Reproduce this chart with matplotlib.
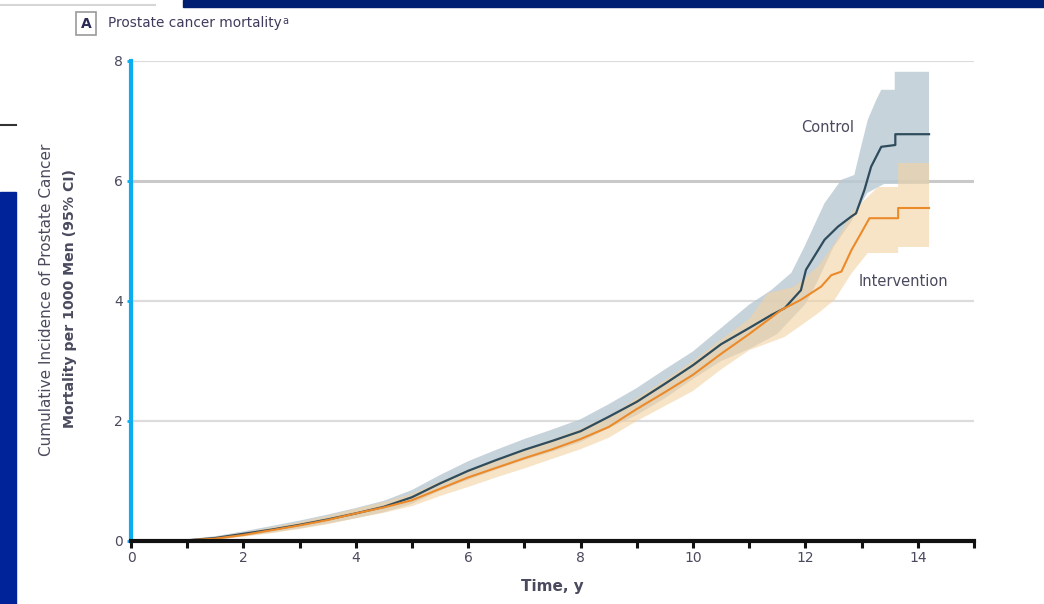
import matplotlib
matplotlib.use("Agg")
import matplotlib.pyplot as plt
from matplotlib.patches import Rectangle

# ---------------- data ----------------
# Control: cumulative incidence per 1000 men and 95% CI
ctrl_t = [0, 0.5, 1, 1.5, 2, 2.5, 3, 3.5, 4, 4.5, 5, 5.5, 6, 6.5, 7, 7.5, 8, 8.5, 9,
          9.5, 10, 10.5, 11, 11.4, 11.63, 11.92, 12.01, 12.34, 12.58, 12.82, 12.9,
          13.05, 13.17, 13.35, 13.6, 13.6, 14.2]
ctrl_v = [0, 0, 0.01, 0.05, 0.12, 0.19, 0.27, 0.36, 0.46, 0.57, 0.73, 0.96, 1.17, 1.35,
          1.52, 1.67, 1.83, 2.07, 2.32, 2.62, 2.93, 3.28, 3.55, 3.77, 3.88, 4.18, 4.52,
          5.02, 5.24, 5.41, 5.46, 5.85, 6.24, 6.57, 6.6, 6.78, 6.78]

ctrl_up_t = [0, 0.5, 1, 1.5, 2, 2.5, 3, 3.5, 4, 4.5, 5, 5.5, 6, 6.5, 7, 7.5, 8, 8.5, 9,
             9.5, 10, 10.5, 11, 11.39, 11.75, 11.98, 12.34, 12.64, 12.87, 12.99, 13.11,
             13.26, 13.35, 13.59, 13.59, 14.2]
ctrl_up_v = [0, 0.01, 0.03, 0.08, 0.16, 0.25, 0.34, 0.44, 0.55, 0.67, 0.85, 1.1, 1.33,
             1.52, 1.7, 1.86, 2.03, 2.28, 2.55, 2.86, 3.16, 3.55, 3.94, 4.18, 4.47, 4.9,
             5.63, 6.02, 6.1, 6.57, 7.02, 7.35, 7.52, 7.52, 7.82, 7.82]

ctrl_lo_t = [0, 0.5, 1, 1.5, 2, 2.5, 3, 3.5, 4, 4.5, 5, 5.5, 6, 6.5, 7, 7.5, 8, 8.5, 9,
             9.5, 10, 10.5, 11, 11.5, 12, 12.2, 12.5, 12.8, 13.1, 13.4, 14.2]
ctrl_lo_v = [0, 0, 0, 0.02, 0.08, 0.14, 0.21, 0.29, 0.38, 0.48, 0.62, 0.84, 1.02, 1.19,
             1.35, 1.49, 1.65, 1.88, 2.1, 2.38, 2.7, 3.0, 3.2, 3.45, 3.95, 4.3, 4.9, 5.3,
             5.8, 5.95, 5.95]

# Intervention: cumulative incidence per 1000 men and 95% CI
int_t = [0, 0.5, 1, 1.5, 2, 2.5, 3, 3.5, 4, 4.5, 5, 5.5, 6, 6.5, 7, 7.5, 8, 8.5, 9,
         9.5, 10, 10.5, 11, 11.57, 11.92, 12.28, 12.46, 12.64, 12.82, 12.99, 13.14,
         13.65, 13.65, 14.2]
int_v = [0, 0, 0.01, 0.04, 0.1, 0.18, 0.26, 0.35, 0.46, 0.56, 0.68, 0.87, 1.06, 1.22,
         1.38, 1.53, 1.7, 1.9, 2.2, 2.48, 2.77, 3.12, 3.45, 3.85, 4.02, 4.24, 4.43, 4.49,
         4.85, 5.13, 5.38, 5.38, 5.55, 5.55]

int_up_t = [0, 0.5, 1, 1.5, 2, 2.5, 3, 3.5, 4, 4.5, 5, 5.5, 6, 6.5, 7, 7.5, 8, 8.5, 9,
            9.5, 10, 10.5, 11, 11.33, 11.8, 12.22, 12.52, 12.82, 13.05, 13.29, 13.65,
            13.65, 14.2]
int_up_v = [0, 0.01, 0.03, 0.07, 0.14, 0.23, 0.32, 0.42, 0.54, 0.65, 0.79, 0.99, 1.18,
            1.35, 1.52, 1.69, 1.87, 2.08, 2.38, 2.68, 3.0, 3.36, 3.7, 4.13, 4.24, 4.57,
            4.96, 5.46, 5.68, 5.9, 5.9, 6.3, 6.3]

int_lo_t = [0, 0.5, 1, 1.5, 2, 2.5, 3, 3.5, 4, 4.5, 5, 5.5, 6, 6.5, 7, 7.5, 8, 8.5, 9,
            9.5, 10, 10.5, 11, 11.63, 12.22, 12.52, 12.82, 13.11, 13.65, 13.65, 14.2]
int_lo_v = [0, 0, 0, 0.02, 0.07, 0.13, 0.2, 0.28, 0.38, 0.47, 0.58, 0.75, 0.9, 1.06,
            1.21, 1.37, 1.53, 1.72, 2.0, 2.25, 2.5, 2.86, 3.18, 3.4, 3.79, 4.02, 4.46,
            4.8, 4.8, 4.9, 4.9]

x_ticks = list(range(0, 16))
x_labels = ["0", "", "2", "", "4", "", "6", "", "8", "", "10", "", "12", "", "14", ""]
y_ticks = [0, 2, 4, 6, 8]
y_labels = ["0", "2", "4", "6", "8"]

# ---------------- styling ----------------
plt.rcParams["font.family"] = ["DejaVu Sans"]
TXT = "#4a4a5e"
CTRL = "#2e4c5c"
CTRL_BAND = "#b9c9d3"
INT = "#ec8a2a"
INT_BAND = "#f3d2a2"

fig = plt.figure(figsize=(10.44, 6.04), dpi=100)
W, H = 1044, 604

# slide decorations
fig.patches.append(Rectangle((183 / W, 1 - 7 / H), 1 - 183 / W, 7 / H,
                             transform=fig.transFigure, color="#001f72", zorder=0))
fig.patches.append(Rectangle((0, 0), 16 / W, 1 - 192 / H,
                             transform=fig.transFigure, color="#00239a", zorder=0))
fig.lines.append(plt.Line2D([0, 155 / W], [1 - 5 / H, 1 - 5 / H],
                            transform=fig.transFigure, color="#d6d6d6", lw=1.5))
fig.lines.append(plt.Line2D([0, 16 / W], [1 - 125 / H, 1 - 125 / H],
                            transform=fig.transFigure, color="#333333", lw=1.5))

ax = fig.add_axes([131 / W, 1 - 541 / H, (974 - 131) / W, 480 / H])
ax.set_xlim(0, 15)
ax.set_ylim(0, 8)

# grid
ax.set_yticks(y_ticks)
ax.set_yticklabels(y_labels)
ax.yaxis.grid(True, color="#dcdcdc", lw=1.6, zorder=0)
ax.set_axisbelow(True)
for gl, yv in zip(ax.get_ygridlines(), y_ticks):
    if yv == 6:
        gl.set_color("#c9c9c9")
        gl.set_linewidth(2.2)
    if yv == 0:
        gl.set_visible(False)

# confidence bands
ax.fill(ctrl_up_t + ctrl_lo_t[::-1], ctrl_up_v + ctrl_lo_v[::-1],
        color=CTRL_BAND, alpha=0.8, lw=0, zorder=2)
ax.fill(int_up_t + int_lo_t[::-1], int_up_v + int_lo_v[::-1],
        color=INT_BAND, alpha=0.6, lw=0, zorder=2)

# curves
ax.plot(ctrl_t, ctrl_v, color=CTRL, lw=1.6, zorder=4)
ax.plot(int_t, int_v, color=INT, lw=1.5, zorder=4)

# spines / ticks
for s in ["top", "right"]:
    ax.spines[s].set_visible(False)
ax.spines["left"].set_color("#0aaef0")
ax.spines["left"].set_linewidth(3.0)
ax.spines["left"].set_zorder(5)
ax.spines["bottom"].set_color("#111111")
ax.spines["bottom"].set_linewidth(3.0)
ax.spines["bottom"].set_zorder(6)

ax.set_xticks(x_ticks)
ax.set_xticklabels(x_labels)
ax.tick_params(axis="x", direction="out", length=5, width=2.2, color="#111111",
               labelsize=10, labelcolor=TXT, pad=2)
ax.tick_params(axis="y", direction="out", length=3, width=2, color="#0aaef0",
               labelsize=10, labelcolor=TXT, pad=3)

# labels
ax.set_xlabel("Time, y", fontsize=11, fontweight="bold", color=TXT, labelpad=10)
fig.text(47 / W, 1 - 300 / H, "Cumulative Incidence of Prostate Cancer",
         rotation=90, ha="center", va="center", fontsize=11, color=TXT)
fig.text(70 / W, 1 - 298 / H, "Mortality per 1000 Men (95% CI)",
         rotation=90, ha="center", va="center", fontsize=10.2, color=TXT,
         fontweight="bold")

ax.text(12.4, 6.9, "Control", fontsize=10.5, color=TXT, ha="center", va="center")
ax.text(13.74, 4.32, "Intervention", fontsize=10.5, color=TXT, ha="center", va="center")

# panel title
fig.text(86 / W, 1 - 23.5 / H, "A", ha="center", va="center", fontsize=10,
         fontweight="bold", color="#2a2a55",
         bbox=dict(boxstyle="square,pad=0.35", fc="white", ec="#9a9a9a", lw=1.2))
t = fig.text(108 / W, 1 - 23.5 / H, "Prostate cancer mortality", ha="left",
             va="center", fontsize=9.8, color="#3e3b5c")
fig.canvas.draw()
bb = t.get_window_extent()
fig.text((bb.x1 + 1) / W, (bb.y1 + 1) / H, "a", ha="left", va="top", fontsize=7,
         color="#3e3b5c")

fig.savefig("out.png", dpi=100)
